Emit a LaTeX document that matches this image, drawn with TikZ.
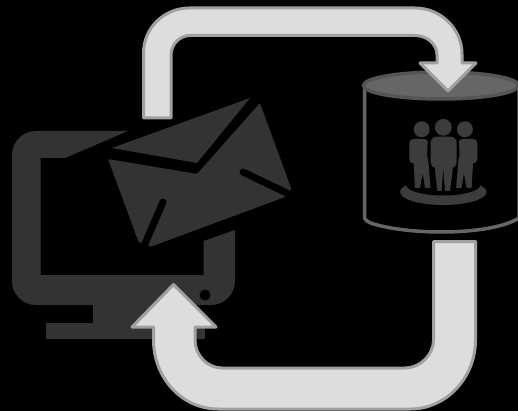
\documentclass[tikz,border=0pt]{standalone}
\definecolor{mon}{HTML}{333333}
\definecolor{arrf}{HTML}{DDDDDD}
\definecolor{arrs}{HTML}{A0A0A0}
\definecolor{cyls}{HTML}{666666}
\definecolor{cyltop}{HTML}{666666}
\definecolor{cyledge}{HTML}{555555}
\definecolor{ppl}{HTML}{3C3C3C}
\tikzset{
  flow/.style={fill=arrf,draw=arrs,line width=3,line join=round},
  slit/.style={draw=black,line width=7,line cap=round},
  person/.style={fill=ppl,draw=none}
}
\begin{document}
\begin{tikzpicture}[x=1pt,y=-1pt]
\path[fill=black,use as bounding box] (0,0) rectangle (518,411);
% monitor
\fill[mon] (128,131) -- (36,131) .. controls (22.7,131) and (12,141.7) .. (12,155)
  -- (12,281) .. controls (12,294.3) and (22.7,305) .. (36,305)
  -- (211,305) .. controls (224.3,305) and (235,294.3) .. (235,281)
  -- (235,230) -- (203.5,241) -- (203.5,275) -- (40.5,275) -- (40.5,158) -- (65,158) -- cycle;
\fill[mon] (93,300) rectangle (175,330);
\fill[mon] (46,323) rectangle (205,339);
\fill[black] (205,295) circle[radius=5.5];
% envelope
\fill[mon] (112,148) -- (250,98) -- (197,163) -- cycle;
\fill[mon,rounded corners=1.5] (108,159) -- (197,174) -- (260,103) -- (291,188) -- (291,190) -- (285,197) -- (150,247) -- (145,243) -- (139,243) -- cycle;
\draw[slit] (243,172) -- (295,197);
\draw[slit] (163,202) -- (144,246);
% cylinder
\draw[draw=cyls,fill=black,line width=3.5] (364.5,85) -- (364.5,217) .. controls (364.5,220) and (368,222) .. (372,223.5) .. controls (390,229) and (415,232) .. (441,232) .. controls (475,232) and (505,227) .. (519,218) -- (519,85);
\draw[fill=cyltop,draw=cyledge,line width=3.5] (441,85.5) ellipse[x radius=77.5,y radius=13.5];
% people
\fill[ppl] (443.3,192) ellipse[x radius=43.3,y radius=13];
\fill[black] (443.3,185) ellipse[x radius=37,y radius=10.5];
\fill[person] (443.3,127.3) circle[radius=8.4];
\fill[person] (421.7,129.3) circle[radius=8];
\fill[person] (464.9,129.3) circle[radius=8];
% left figure
\fill[person,rounded corners=4] (409.3,163.5) -- (409.3,139) -- (428.5,139) .. controls (427,147) and (427,155) .. (428,165) -- (428.5,168) -- (428.5,163.5) -- cycle;
\fill[person] (413.3,158) -- (428,158) -- (430.5,188) -- (425,188) -- (422.7,173) -- (420,188) -- (415,188) -- cycle;
% right figure
\fill[person,rounded corners=4] (477.3,163.5) -- (477.3,139) -- (458.1,139) .. controls (459.6,147) and (459.6,155) .. (458.6,165) -- (458.1,168) -- (458.1,163.5) -- cycle;
\fill[person] (473.3,158) -- (458.6,158) -- (456.1,188) -- (461.6,188) -- (463.9,173) -- (466.6,188) -- (471.6,188) -- cycle;
% centre figure
\fill[person,rounded corners=6] (430.7,168) -- (430.7,136.7) -- (456.7,136.7) -- (456.7,168) -- cycle;
\fill[person] (435,160) -- (452.7,160) -- (452.7,170) -- (450,191) -- (445,191) -- (443.5,171.5) -- (443,171.5) -- (441.5,191) -- (437.5,191) -- (435,170) -- cycle;
% arrows
\draw[flow] (143.5,118) -- (143.5,53) .. controls (143.5,28) and (164,8) .. (189.5,8)
  -- (415,8) .. controls (441,8) and (462,29) .. (462,54)
  -- (462,63) -- (476,63) -- (448,91) -- (420,63) -- (437,63) -- (437,55)
  .. controls (437,44) and (427,35.5) .. (415,35.5) -- (190,35.5)
  .. controls (180,35.5) and (171,44) .. (171,55) -- (171,118) -- cycle;
\draw[flow] (433.5,241.5) -- (475.5,241.5) -- (475.5,340)
  .. controls (475.5,378) and (446,409) .. (410.5,409) -- (218,409)
  .. controls (182,409) and (153.5,378) .. (153.5,340)
  -- (153.5,327) -- (132,327) -- (173.5,284.5) -- (216,327) -- (195,327) -- (195,340)
  .. controls (195,355) and (207,368) .. (222,368) -- (405,368)
  .. controls (420,368) and (433.5,355) .. (433.5,340) -- cycle;
\end{tikzpicture}
\end{document}
